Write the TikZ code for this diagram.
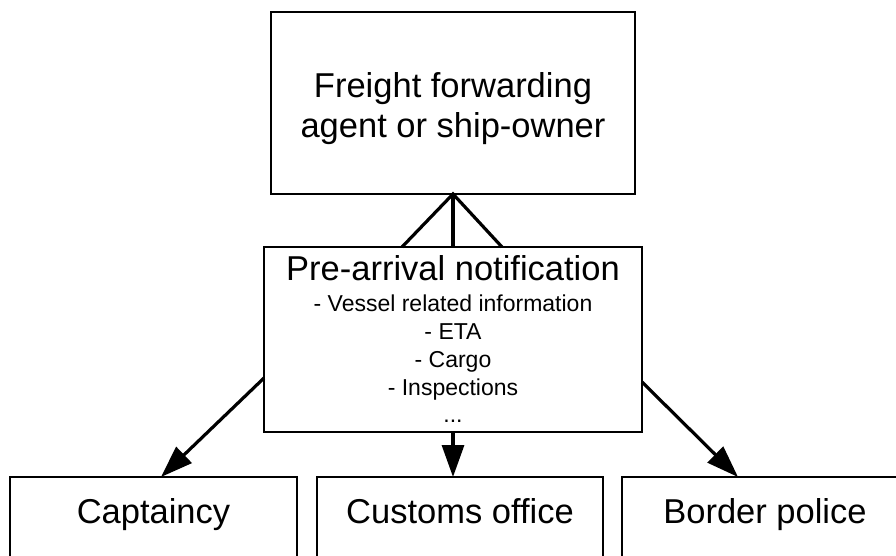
\documentclass[tikz,border=0pt]{standalone}
\usepackage{fontspec}
\setmainfont{Liberation Sans}
\usetikzlibrary{arrows.meta,calc}

\newcommand{\headsize}{\fontsize{34.5}{40}\selectfont}
\newcommand{\itemsize}{\fontsize{23}{28}\selectfont}

\tikzset{
  box/.style={draw, line width=2pt, rectangle, inner sep=0pt, outer sep=0pt},
  unitbox/.style={box, anchor=north, minimum width=287pt,
                  text height=46pt, text depth=104pt, font=\headsize},
  bigline/.style={anchor=base, inner sep=0pt, font=\headsize},
  smallline/.style={anchor=base, inner sep=0pt, font=\itemsize},
  link/.style={line width=3.2pt},
  arrowlink/.style={link, -{Triangle[length=32pt,width=22pt]}},
}

\begin{document}
\begin{tikzpicture}[x=1pt,y=-1pt]
  \useasboundingbox (0,0) rectangle (896,555);

  % sender
  \node[box, minimum width=364pt, minimum height=182pt] (agent) at (453,103) {};
  \node[bigline] (agentA) at (453,97)  {Freight forwarding};
  \node[bigline] (agentB) at (453,137) {agent or ship-owner};

  % notification message
  \node[box, minimum width=378pt, minimum height=185pt] (mid) at (453,339.5) {};
  \node[bigline]   (noteT) at (453,280) {Pre-arrival notification};
  \node[smallline] (note1) at (453,311) {- Vessel related information};
  \node[smallline] (note2) at (453,339) {- ETA};
  \node[smallline] (note3) at (453,367) {- Cargo};
  \node[smallline] (note4) at (453,395) {- Inspections};
  \node[smallline] (note5) at (453,422) {...};

  % receiving authorities
  \node[unitbox] (cap)  at (153.5,477) {Captaincy};
  \node[unitbox, minimum width=286pt] (cust) at (460,477) {Customs office};
  \node[unitbox, minimum width=286pt] (bp)   at (765,477) {Border police};

  % sender to notification
  \draw[link] ($(mid.north)+(-51,0)$) -- (agent.south) -- ($(mid.north)+(49,0)$);
  \draw[link] (agent.south) -- (mid.north);

  % notification to authorities
  \draw[arrowlink] ($(mid.north west)+(0,131)$) -- ($(cap.north west)+(151,0)$);
  \draw[arrowlink] (mid.south) -- (mid.south |- cust.north);
  \draw[arrowlink] ($(mid.north east)+(0,135)$) -- ($(bp.north west)+(116,0)$);
\end{tikzpicture}
\end{document}
